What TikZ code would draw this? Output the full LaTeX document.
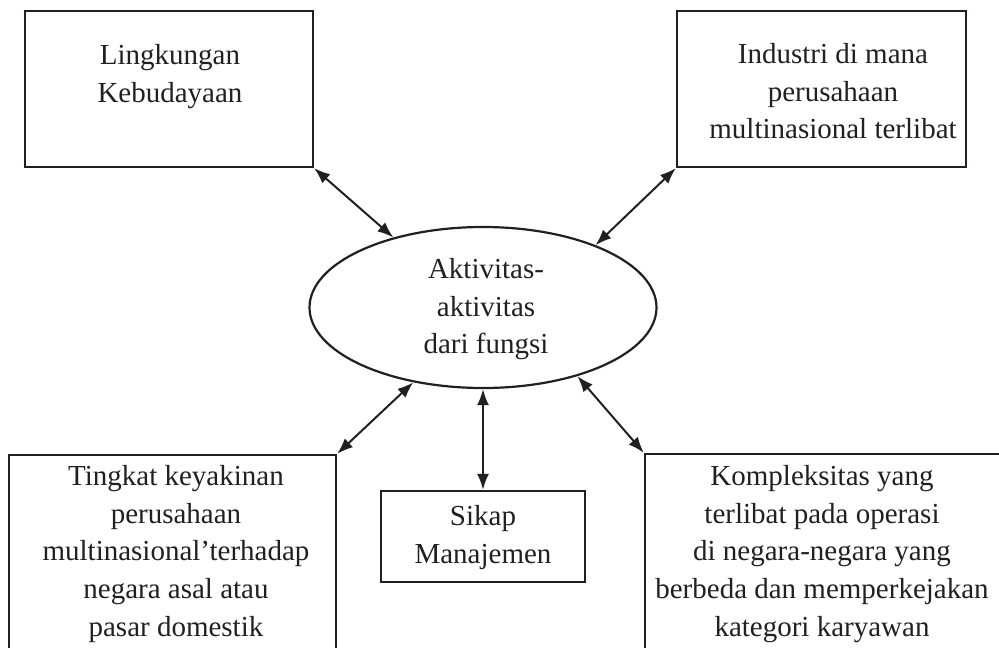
\documentclass[tikz,border=0pt]{standalone}
\usepackage{fontspec}
\setmainfont{Liberation Serif}
\usetikzlibrary{shapes.geometric,arrows.meta}
\definecolor{ink}{HTML}{231F20}
\begin{document}
\begin{tikzpicture}[x=1pt,y=-1pt,
  box/.style={draw=ink,line width=2.3pt,rectangle,inner sep=0pt},
  hub/.style={draw=ink,line width=2.2pt,ellipse,inner sep=0pt,
    minimum width=347pt,minimum height=161pt},
  txt/.style={text=ink,align=center,inner sep=0pt,anchor=north,
    font=\fontsize{29}{37.7}\selectfont},
  link/.style={draw=ink,line width=2pt,
    {Latex[length=16pt,width=12pt]}-{Latex[length=16pt,width=12pt]}}]
  \clip (0,0) rectangle (999,648);

  % outer factor boxes
  \node[box,minimum width=288pt,minimum height=156pt] (culture) at (169,89) {};
  \node[box,minimum width=289pt,minimum height=156pt] (industry) at (821.5,89) {};
  \node[box,minimum width=327pt,minimum height=240pt] (trust) at (172.5,575) {};
  \node[box,minimum width=380pt,minimum height=240pt] (complex) at (835,574) {};
  \node[box,minimum width=204pt,minimum height=91pt] (attitude) at (483,536.5) {};

  % central activities
  \node[hub] (core) at (483,307.5) {};

  % texts
  \node[txt] (tculture) at (170,44) {Lingkungan\\Kebudayaan};
  \node[txt] (tindustry) at (833,43) {Industri di mana\\perusahaan\\multinasional terlibat};
  \node[txt] (tcore) at (486,258) {Aktivitas-\\aktivitas\\dari fungsi};
  \node[txt] (ttrust) at (176,465) {Tingkat keyakinan\\perusahaan\\multinasional’terhadap\\negara asal atau\\pasar domestik};
  \node[txt] (tcomplex) at (822,465) {Kompleksitas yang\\terlibat pada operasi\\di negara-negara yang\\berbeda dan memperkejakan\\kategori karyawan};
  \node[txt] (tattitude) at (483,505) {Sikap\\Manajemen};

  % two-way links
  \draw[link] (culture.south east) -- (core.142);
  \draw[link] (industry.south west) -- (core.29);
  \draw[link] (trust.north east) -- (core.227);
  \draw[link] (complex.north west) -- (core.-36);
  \draw[link] (core.south) -- (attitude.north);
\end{tikzpicture}
\end{document}
